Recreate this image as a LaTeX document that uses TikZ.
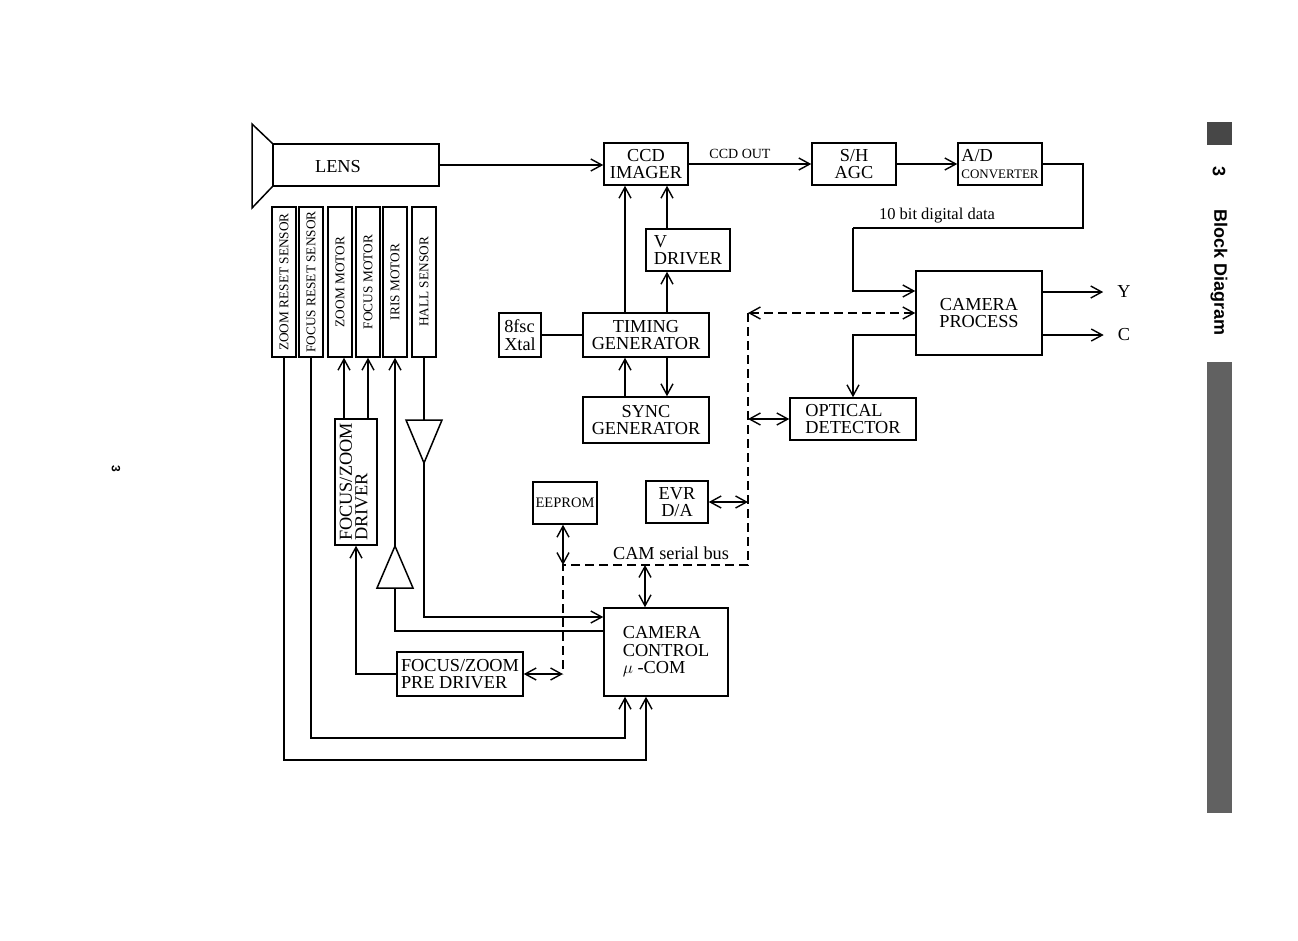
\documentclass[tikz,border=0pt]{standalone}
\usepackage{fontspec}
\usepackage{graphicx}
\setmainfont{Liberation Serif}
\newfontfamily\tabfont{Liberation Sans}
\usetikzlibrary{arrows.meta,calc}
\newcommand\fmain{\fontsize{18.3}{17.5}\selectfont}
\newcommand\fsens{\fontsize{13.3}{14}\selectfont}
\begin{document}
\begin{tikzpicture}[x=1pt,y=-1pt,
  ln/.style={line width=1.5pt},
  box/.style={draw, line width=1.5pt, inner sep=1pt, align=center, font=\fmain},
  sens/.style={box, minimum width=24, minimum height=150, font=\fsens},
  lbl/.style={inner sep=0pt, font=\fmain},
  tip/.tip={Straight Barb[length=11pt,width=12pt,line width=1.4pt]},
  arr/.style={ln, -tip},
  dbl/.style={ln, tip-tip},
  dsh/.style={ln, dash pattern=on 9pt off 5pt},
]
\useasboundingbox[fill=white] (0,0) rectangle (1298,940);

% ---- lens
\node[box, minimum width=166, minimum height=42] (lens) at (356,165) {};
\node[lbl] (lenstext) at (338,167) {LENS};
\draw[ln] (lens.north west) -- (252,124) -- (252,208) -- (lens.south west);

% ---- sensors / motors
\node[sens] (zrs) at (284,282) {\rotatebox{90}{ZOOM RESET SENSOR}};
\node[sens] (frs) at (311,282) {\rotatebox{90}{FOCUS RESET SENSOR}};
\node[sens] (zm) at (340,282) {\rotatebox{90}{ZOOM MOTOR}};
\node[sens] (fm) at (368,282) {\rotatebox{90}{FOCUS MOTOR}};
\node[sens] (im) at (395,282) {\rotatebox{90}{IRIS MOTOR}};
\node[sens] (hs) at (424,282) {\rotatebox{90}{HALL SENSOR}};

% ---- imaging chain
\node[box, minimum width=84, minimum height=42] (ccd) at (646,164) {CCD\\IMAGER};
\node[box, minimum width=84, minimum height=42] (sh) at (854,164) {S/H\\AGC};
\node[box, minimum width=84, minimum height=42, align=left] (ad) at (1000,164) {A/D\\{\fontsize{13}{13}\selectfont CONVERTER}};
\node[box, minimum width=84, minimum height=42, align=left] (vdrv) at (688,250) {V\\DRIVER};
\node[box, minimum width=126, minimum height=44] (timing) at (646,335) {TIMING\\GENERATOR};
\node[box, minimum width=42, minimum height=44, align=left] (xtal) at (520,335) {8fsc\\Xtal};
\node[box, minimum width=126, minimum height=46] (sync) at (646,420) {SYNC\\GENERATOR};
\node[box, minimum width=126, minimum height=84] (camproc) at (979,313) {CAMERA\\PROCESS};
\node[box, minimum width=126, minimum height=42, align=left] (optdet) at (853,419) {OPTICAL\\DETECTOR};
\node[box, minimum width=64, minimum height=42, font=\fontsize{14.5}{15}\selectfont] (eeprom) at (565,503) {EEPROM};
\node[box, minimum width=62, minimum height=42] (evr) at (677,502) {EVR\\D/A};
\node[box, minimum width=124, minimum height=88, align=left] (camctl) at (666,652) {CAMERA\\CONTROL\\$\mu$ -COM};
\node[box, minimum width=126, minimum height=44, align=left] (predrv) at (460,674) {FOCUS/ZOOM\\PRE DRIVER};
\node[box, minimum width=42, minimum height=126] (fzdrv) at (356,482) {\rotatebox{90}{\begin{tabular}{@{}l@{}}FOCUS/ZOOM\\[-2pt]DRIVER\end{tabular}}};

\node[lbl] (Y) at (1124,292) {Y};
\node[lbl] (C) at (1124,335) {C};

% ---- labels
\node[lbl, font=\fontsize{14}{14}\selectfont] (ccdout) at (740,154) {CCD OUT};
\node[lbl, font=\fontsize{16.5}{17}\selectfont] (tenbit) at (937,216) {10 bit digital data};
\node[lbl] (cambus) at (671,553) {CAM serial bus};

% ---- top chain connectors
\draw[arr] (lens.east) -- (lens.east -| ccd.west);
\draw[arr] (ccd.east) -- (sh.west);
\draw[arr] (sh.east) -- (ad.west);
\coordinate (adR) at (1083,228);
\coordinate (adL) at (853,228);
\draw[ln] (ad.east) -| (adR) -- (adL);
\draw[arr] (adL) |- ([yshift=22pt]camproc.west);
\draw[arr] (Y -| camproc.east) -- ([xshift=-14pt]Y.west);
\draw[arr] (C -| camproc.east) -- ([xshift=-14pt]C.west);
\draw[arr] ([yshift=-22pt]camproc.west) -| (optdet.north);

% ---- timing connectors
\draw[arr] ([xshift=-21pt]timing.north) -- ([xshift=-21pt]timing.north |- ccd.south);
\draw[arr] ([xshift=-21pt]vdrv.north) -- ([xshift=-21pt]vdrv.north |- ccd.south);
\draw[arr] ([xshift=21pt]timing.north) -- ([xshift=21pt]timing.north |- vdrv.south);
\draw[ln] (xtal.east) -- (timing.west);
\draw[arr] ([xshift=-21pt]sync.north) -- ([xshift=-21pt]sync.north |- timing.south);
\draw[arr] ([xshift=21pt]timing.south) -- ([xshift=21pt]timing.south |- sync.north);

% ---- serial bus
\coordinate (busTop) at (748,313);
\coordinate (busBR) at (748,565);
\coordinate (busBL) at (563,565);
\coordinate (busPre) at (563,674);
\coordinate (busC) at (645,565);
\draw[dsh, tip-tip] (busTop) -- (busTop -| camproc.west);
\draw[dsh] (busTop) -- (busBR) -- (busBL) -- (busPre);
\draw[dbl] (optdet.west -| busTop) -- (optdet.west);
\draw[dbl] (evr.east) -- (evr.east -| busTop);
\draw[dbl] (eeprom.south -| busBL) -- (busBL);
\draw[dbl] (predrv.east) -- (busPre);
\draw[dbl] (busC) -- (busC |- camctl.north);

% ---- motor drivers
\draw[arr] ([xshift=-12pt]fzdrv.north) -- ([xshift=-12pt]fzdrv.north |- zm.south);
\draw[arr] ([xshift=12pt]fzdrv.north) -- ([xshift=12pt]fzdrv.north |- fm.south);
\draw[arr] (predrv.west) -| (fzdrv.south);

% iris amplifier (pointing up)
\coordinate (irisApex) at (395,546);
\coordinate (irisBase) at (395,588);
\coordinate (irisTurn) at (395,631);
\draw[ln, line join=miter] (irisApex) -- (413,588) -- (377,588) -- cycle;
\draw[arr] (irisApex) -- (irisApex |- im.south);
\draw[ln] (irisBase) -- (irisTurn) -- (irisTurn -| camctl.west);

% hall amplifier (pointing down)
\coordinate (hallBase) at (424,420);
\coordinate (hallApex) at (424,463);
\coordinate (hallTurn) at (424,617);
\draw[ln, line join=miter] (406,420) -- (442,420) -- (hallApex) -- cycle;
\draw[ln] (hs.south) -- (hallBase);
\draw[arr] (hallApex) -- (hallTurn) -- (hallTurn -| camctl.west);

% reset sensors to camera control
\coordinate (frsTurn) at (311,738);
\coordinate (zrsTurn) at (284,760);
\draw[arr] (frs.south) -- (frsTurn) -| ([xshift=-41pt]camctl.south);
\draw[arr] (zrs.south) -- (zrsTurn) -| ([xshift=-20pt]camctl.south);

% ---- side tab
\fill[black!72] (1207,122) rectangle (1232,145);
\node[inner sep=0pt, rotate=-90, font=\tabfont\bfseries\fontsize{18}{18}\selectfont] (tabnum) at (1219,172) {3};
\node[inner sep=0pt, rotate=-90, font=\tabfont\bfseries\fontsize{18}{18}\selectfont] (tabtitle) at (1219,273) {Block Diagram};
\fill[black!62] (1207,362) rectangle (1232,813);
\node[inner sep=0pt, rotate=-90, font=\tabfont\bfseries\fontsize{12}{12}\selectfont] (pagenum) at (116,469) {3};
\end{tikzpicture}
\end{document}
